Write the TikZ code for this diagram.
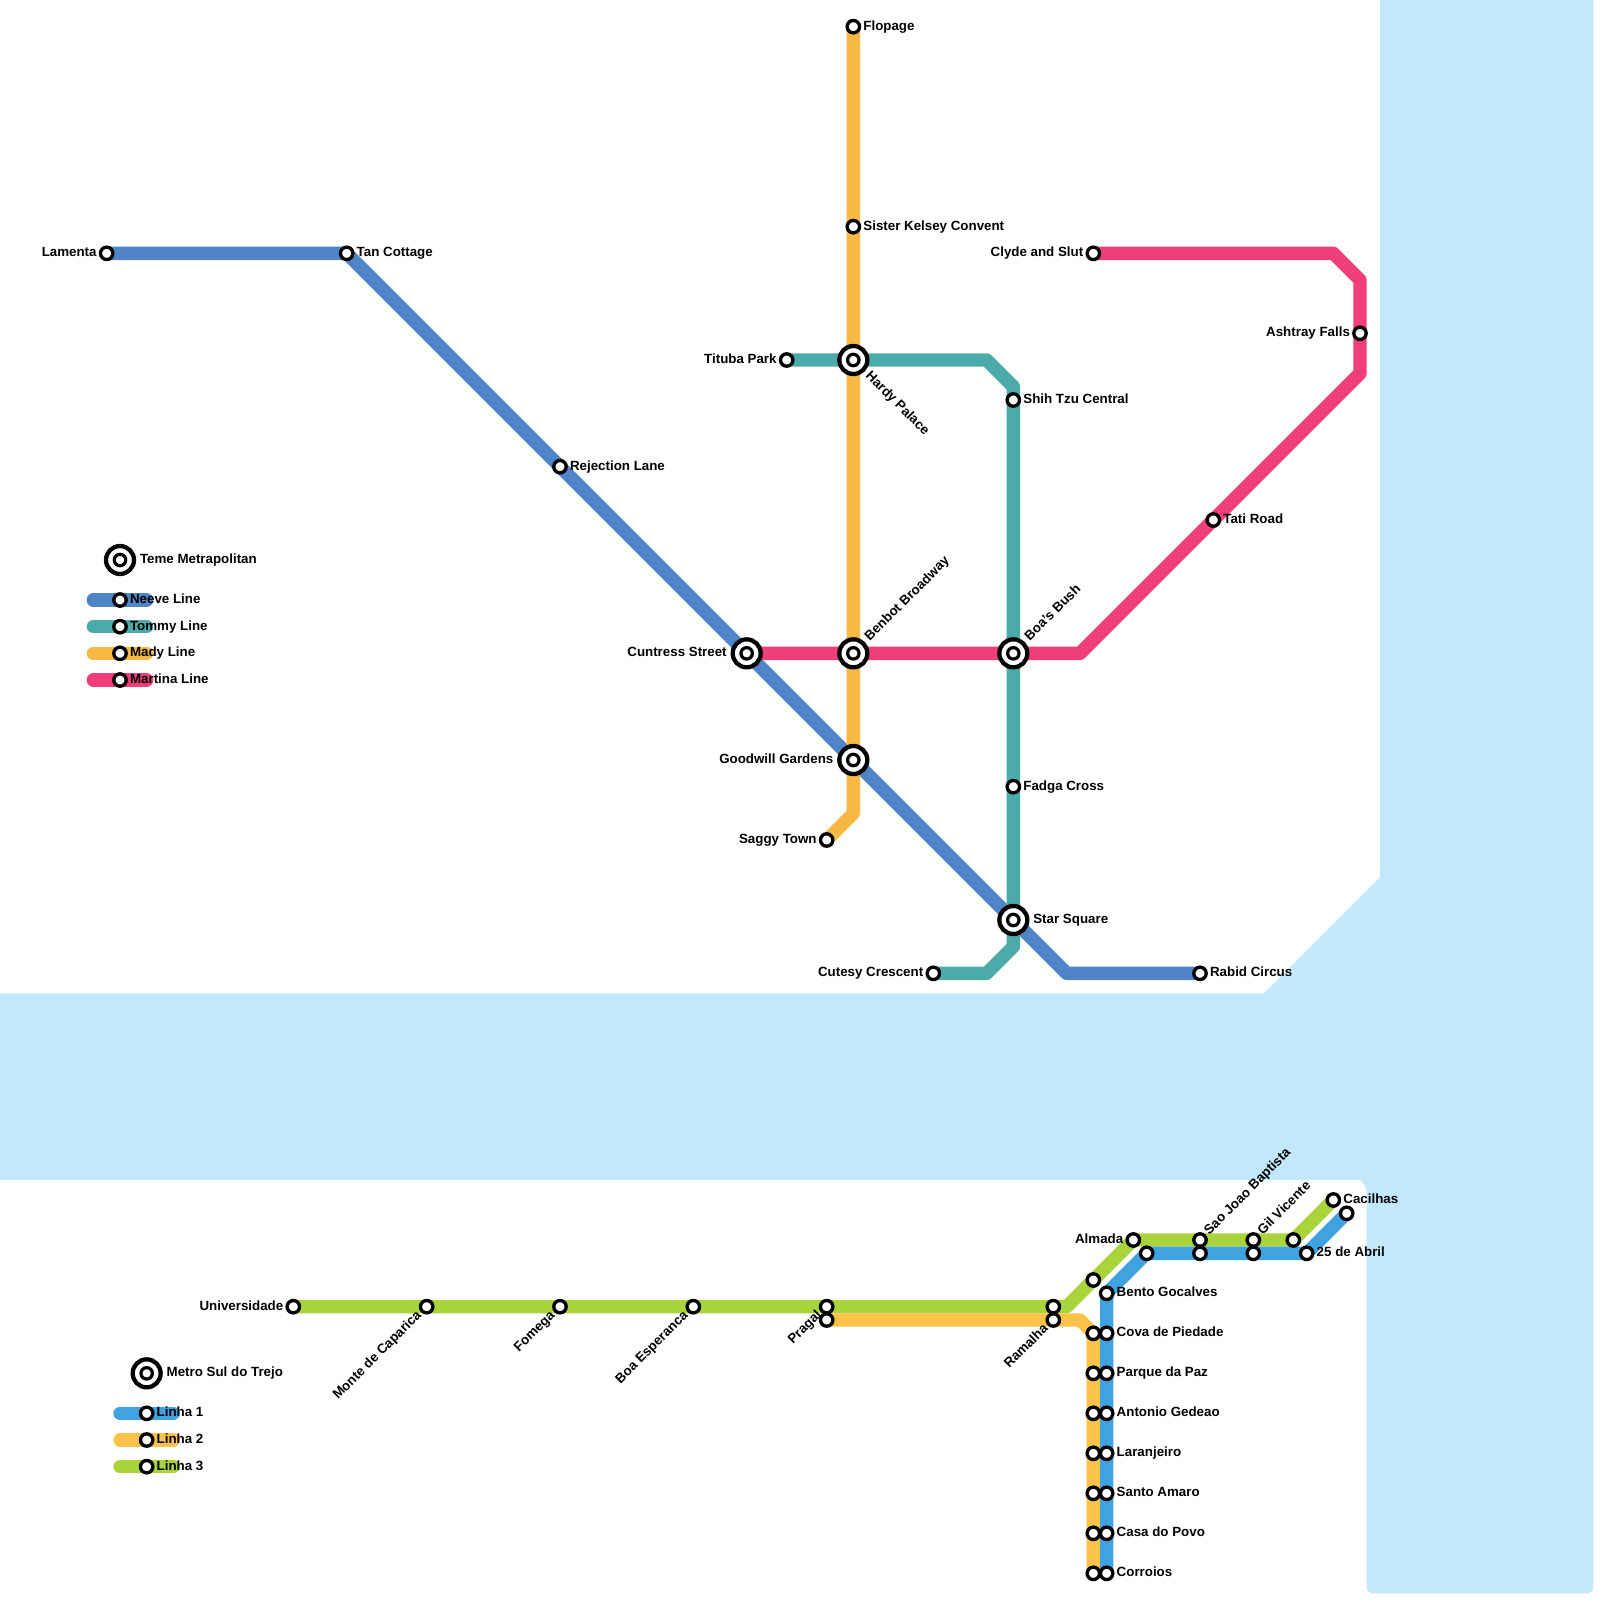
\documentclass[tikz,border=0pt]{standalone}
\usepackage{fontspec}
\setmainfont{Liberation Sans}
\usetikzlibrary{positioning, backgrounds, calc}
\definecolor{water}{HTML}{C2E8FC}
\definecolor{neeve}{HTML}{4F85C6}
\definecolor{tommy}{HTML}{4AABA9}
\definecolor{mady}{HTML}{F7B844}
\definecolor{martina}{HTML}{EF3E78}
\definecolor{linhaone}{HTML}{3FA3E2}
\definecolor{linhatwo}{HTML}{FBC34A}
\definecolor{linhathree}{HTML}{A9D43C}

\begin{document}
\begin{tikzpicture}[
    x=10pt, y=-10pt,
    node distance=1.65pt,
    stn/.style={circle, draw=black, fill=white, line width=2.5pt, minimum size=9.3pt, inner sep=0pt},
    hub/.style={circle, draw=black, fill=white, line width=3.2pt, minimum size=21pt, inner sep=0pt,
        path picture={\draw[line width=2.4pt] (path picture bounding box.center) circle (4.3pt);}},
    txt/.style={font=\fontsize{10}{12}\selectfont\bfseries, text=black, inner sep=0pt, outer sep=0pt, text height=7pt, text depth=2pt},
    track/.style={line width=10pt, line join=round, line cap=round},
]
    \useasboundingbox (0,0) rectangle (120,120);

    % Neeve Line
    \node[stn] (lamenta) at (8,19) {};
    \node[txt, left=of lamenta] (lamentat) {Lamenta};
    \node[stn] (tancottage) at (26,19) {};
    \node[txt, right=of tancottage] (tancottaget) {Tan Cottage};
    \node[stn] (rejection) at (42,35) {};
    \node[txt, right=of rejection] (rejectiont) {Rejection Lane};
    \node[hub] (cuntress) at (56,49) {};
    \node[txt, left=2.9pt of cuntress] (cuntresst) {Cuntress Street};
    \node[hub] (goodwill) at (64,57) {};
    \node[txt, left=2.9pt of goodwill] (goodwillt) {Goodwill Gardens};
    \node[hub] (starsquare) at (76,69) {};
    \node[txt, right=2.9pt of starsquare] (starsquaret) {Star Square};
    \coordinate (neevebend) at (80,73);
    \node[stn] (rabid) at (90,73) {};
    \node[txt, right=of rabid] (rabidt) {Rabid Circus};

    % Mady Line
    \node[stn] (flopage) at (64,2) {};
    \node[txt, right=of flopage] (flopaget) {Flopage};
    \node[stn] (kelsey) at (64,17) {};
    \node[txt, right=of kelsey] (kelseyt) {Sister Kelsey Convent};
    \node[hub] (hardy) at (64,27) {};
    \node[txt, rotate=-45, anchor=west] (hardyt) at ($(hardy)+(-45:15pt)$) {Hardy Palace};
    \node[hub] (benbot) at (64,49) {};
    \node[txt, rotate=45, anchor=west] (benbott) at ($(benbot)+(45:15pt)$) {Benbot Broadway};
    \coordinate (madybend) at (64,61);
    \node[stn] (saggy) at (62,63) {};
    \node[txt, left=of saggy] (saggyt) {Saggy Town};

    % Tommy Line
    \node[stn] (tituba) at (59,27) {};
    \node[txt, left=of tituba] (titubat) {Tituba Park};
    \coordinate (tommya) at (74,27);
    \coordinate (tommyb) at (76,29);
    \node[stn] (shihtzu) at (76,30) {};
    \node[txt, right=of shihtzu] (shihtzut) {Shih Tzu Central};
    \node[hub] (boasbush) at (76,49) {};
    \node[txt, rotate=45, anchor=west] (boasbusht) at ($(boasbush)+(45:15pt)$) {Boa's Bush};
    \node[stn] (fadga) at (76,59) {};
    \node[txt, right=of fadga] (fadgat) {Fadga Cross};
    \coordinate (tommyc) at (76,71);
    \coordinate (tommyd) at (74,73);
    \node[stn] (cutesy) at (70,73) {};
    \node[txt, left=of cutesy] (cutesyt) {Cutesy Crescent};

    % Martina Line
    \node[stn] (clyde) at (82,19) {};
    \node[txt, left=of clyde] (clydet) {Clyde and Slut};
    \coordinate (martinaa) at (100,19);
    \coordinate (martinab) at (102,21);
    \node[stn] (ashtray) at (102,25) {};
    \node[txt, left=of ashtray] (ashtrayt) {Ashtray Falls};
    \coordinate (martinac) at (102,28);
    \node[stn] (tati) at (91,39) {};
    \node[txt, right=of tati] (tatit) {Tati Road};
    \coordinate (martinad) at (81,49);

    % Teme legend
    \node[hub] (temehub) at (9,42) {};
    \node[txt, right=2.9pt of temehub] (temet) {Teme Metrapolitan};
    \coordinate (nva) at (7,45);
    \coordinate (nvb) at (11,45);
    \node[stn] (nvs) at (9,45) {};
    \node[txt, right=of nvs] (nvt) {Neeve Line};
    \coordinate (tma) at (7,47);
    \coordinate (tmb) at (11,47);
    \node[stn] (tms) at (9,47) {};
    \node[txt, right=of tms] (tmt) {Tommy Line};
    \coordinate (mda) at (7,49);
    \coordinate (mdb) at (11,49);
    \node[stn] (mds) at (9,49) {};
    \node[txt, right=of mds] (mdt) {Mady Line};
    \coordinate (mta) at (7,51);
    \coordinate (mtb) at (11,51);
    \node[stn] (mts) at (9,51) {};
    \node[txt, right=of mts] (mtt) {Martina Line};

    % Linha 3
    \node[stn] (universidade) at (22,98) {};
    \node[txt, left=of universidade] (universidadet) {Universidade};
    \node[stn] (monte) at (32,98) {};
    \node[txt, rotate=45, anchor=east] (montet) at ($(monte)+(225:7.5pt)$) {Monte de Caparica};
    \node[stn] (fomega) at (42,98) {};
    \node[txt, rotate=45, anchor=east] (fomegat) at ($(fomega)+(225:7.5pt)$) {Fomega};
    \node[stn] (esperanca) at (52,98) {};
    \node[txt, rotate=45, anchor=east] (esperancat) at ($(esperanca)+(225:7.5pt)$) {Boa Esperanca};
    \node[stn] (pragalg) at (62,98) {};
    \node[txt, rotate=45, anchor=east] (pragalt) at ($(pragalg)+(225:7.5pt)$) {Pragal};
    \node[stn] (ramalhag) at (79,98) {};
    \coordinate (greena) at (80,98);
    \node[stn] (greenmid) at (82,96) {};
    \node[stn] (almada) at (85,93) {};
    \node[txt, left=of almada] (almadat) {Almada};
    \node[stn] (saojoaog) at (90,93) {};
    \node[txt, rotate=45, anchor=west] (saojoaot) at ($(saojoaog)+(45:7.5pt)$) {Sao Joao Baptista};
    \node[stn] (gilg) at (94,93) {};
    \node[txt, rotate=45, anchor=west] (gilt) at ($(gilg)+(45:7.5pt)$) {Gil Vicente};
    \node[stn] (greenturn) at (97,93) {};
    \node[stn] (cacilhas) at (100,90) {};
    \node[txt, right=of cacilhas] (cacilhast) {Cacilhas};

    % Linha 2
    \node[stn] (pragalo) at (62,99) {};
    \node[stn] (ramalhao) at (79,99) {};
    \node[txt, rotate=45, anchor=east] (ramalhat) at ($(ramalhao)+(225:7.5pt)$) {Ramalha};
    \coordinate (orangea) at (81,99);
    \node[stn] (ob1) at (82,100) {};
    \node[stn] (ob2) at (82,103) {};
    \node[stn] (ob3) at (82,106) {};
    \node[stn] (ob4) at (82,109) {};
    \node[stn] (ob5) at (82,112) {};
    \node[stn] (ob6) at (82,115) {};
    \node[stn] (ob7) at (82,118) {};

    % Linha 1
    \node[stn] (corroios) at (83,118) {};
    \node[txt, right=of corroios] (corroiost) {Corroios};
    \node[stn] (casapovo) at (83,115) {};
    \node[txt, right=of casapovo] (casapovot) {Casa do Povo};
    \node[stn] (santoamaro) at (83,112) {};
    \node[txt, right=of santoamaro] (santoamarot) {Santo Amaro};
    \node[stn] (laranjeiro) at (83,109) {};
    \node[txt, right=of laranjeiro] (laranjeirot) {Laranjeiro};
    \node[stn] (antonio) at (83,106) {};
    \node[txt, right=of antonio] (antoniot) {Antonio Gedeao};
    \node[stn] (parque) at (83,103) {};
    \node[txt, right=of parque] (parquet) {Parque da Paz};
    \node[stn] (cova) at (83,100) {};
    \node[txt, right=of cova] (covat) {Cova de Piedade};
    \node[stn] (bento) at (83,97) {};
    \node[txt, right=of bento] (bentot) {Bento Gocalves};
    \node[stn] (blueturn) at (86,94) {};
    \node[stn] (saojoaob) at (90,94) {};
    \node[stn] (gilb) at (94,94) {};
    \node[stn] (abril) at (98,94) {};
    \node[txt, right=of abril] (abrilt) {25 de Abril};
    \node[stn] (blueend) at (101,91) {};

    % Metro Sul legend
    \node[hub] (sulhub) at (11,103) {};
    \node[txt, right=2.9pt of sulhub] (sult) {Metro Sul do Trejo};
    \coordinate (laa) at (9,106);
    \coordinate (lab) at (13,106);
    \node[stn] (las) at (11,106) {};
    \node[txt, right=of las] (lat) {Linha 1};
    \coordinate (lba) at (9,108);
    \coordinate (lbb) at (13,108);
    \node[stn] (lbs) at (11,108) {};
    \node[txt, right=of lbs] (lbt) {Linha 2};
    \coordinate (lca) at (9,110);
    \coordinate (lcb) at (13,110);
    \node[stn] (lcs) at (11,110) {};
    \node[txt, right=of lcs] (lct) {Linha 3};

    \begin{scope}[on background layer]
        \fill[white] (0,0) rectangle (120,120);
        \fill[water] (103.5,0) -- (119.5,0) {[rounded corners=4pt] -- (119.5,119.5) -- (102.5,119.5) -- (102.5,89)} -- (102,88.5) -- (0,88.5) -- (0,74.5) -- (94.8,74.5) -- (103.5,65.8) -- cycle;

        \draw[track, neeve] (lamenta.center) -- (tancottage.center) -- (rejection.center) -- (cuntress.center) -- (goodwill.center) -- (starsquare.center) -- (neevebend) -- (rabid.center);
        \draw[track, mady] (flopage.center) -- (kelsey.center) -- (hardy.center) -- (benbot.center) -- (goodwill.center) -- (madybend) -- (saggy.center);
        \draw[track, tommy] (tituba.center) -- (hardy.center) -- (tommya) -- (tommyb) -- (shihtzu.center) -- (boasbush.center) -- (fadga.center) -- (starsquare.center) -- (tommyc) -- (tommyd) -- (cutesy.center);
        \draw[track, martina] (clyde.center) -- (martinaa) -- (martinab) -- (ashtray.center) -- (martinac) -- (tati.center) -- (martinad) -- (boasbush.center) -- (benbot.center) -- (cuntress.center);

        \draw[track, neeve] (nva) -- (nvb);
        \draw[track, tommy] (tma) -- (tmb);
        \draw[track, mady] (mda) -- (mdb);
        \draw[track, martina] (mta) -- (mtb);

        \draw[track, linhathree] (universidade.center) -- (monte.center) -- (fomega.center) -- (esperanca.center) -- (pragalg.center) -- (ramalhag.center) -- (greena) -- (greenmid.center) -- (almada.center) -- (saojoaog.center) -- (gilg.center) -- (greenturn.center) -- (cacilhas.center);
        \draw[track, linhatwo] (pragalo.center) -- (ramalhao.center) -- (orangea) -- (ob1.center) -- (ob2.center) -- (ob3.center) -- (ob4.center) -- (ob5.center) -- (ob6.center) -- (ob7.center);
        \draw[track, linhaone] (corroios.center) -- (casapovo.center) -- (santoamaro.center) -- (laranjeiro.center) -- (antonio.center) -- (parque.center) -- (cova.center) -- (bento.center) -- (blueturn.center) -- (saojoaob.center) -- (gilb.center) -- (abril.center) -- (blueend.center);

        \draw[track, linhaone] (laa) -- (lab);
        \draw[track, linhatwo] (lba) -- (lbb);
        \draw[track, linhathree] (lca) -- (lcb);
    \end{scope}
\end{tikzpicture}
\end{document}
